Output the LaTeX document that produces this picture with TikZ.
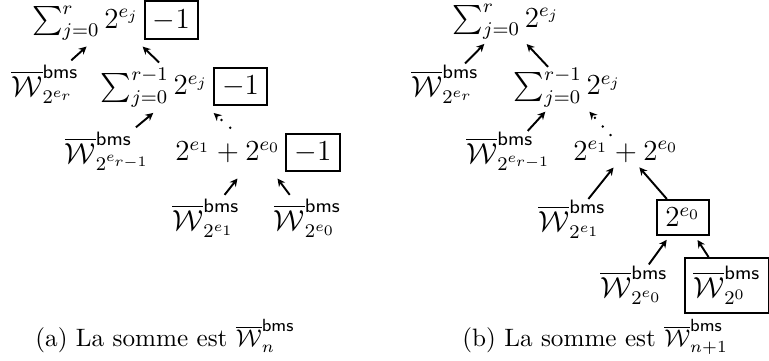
\documentclass[tikz,border=0pt]{standalone}
\usepackage{amsmath}
\usetikzlibrary{arrows.meta}
\setlength{\fboxrule}{0.8pt}
\newcommand{\Wbms}[1]{\overline{\mathcal{W}}^{\textsf{bms}}_{#1}}
\newcommand{\mone}{\hspace{2pt}\fbox{$-1$}}

\begin{document}
\begin{tikzpicture}[
  nda/.style={font=\large,inner sep=1.6pt},
  ndb/.style={font=\large,inner sep=0.3pt},
  bx/.style={font=\large,draw,line width=0.8pt},
  captxt/.style={anchor=base west,inner sep=0pt,font=\fontsize{10.4}{12.5}\selectfont},
  ar/.style={->,line width=0.8pt,shorten >=2pt},
  >={Stealth[length=3.2pt,width=3.2pt]}
]
\useasboundingbox (0,0) rectangle (11.17,5.243);
% (a) sum of n
\node[nda] (s0) at (1.678,4.945) {$\sum_{j=0}^{r}2^{e_j}$\mone};
\node[nda] (wr) at (0.654,4.023) {$\Wbms{2^{e_r}}$};
\node[nda] (s1) at (2.680,3.980) {$\sum_{j=0}^{r-1}2^{e_j}$\mone};
\node[nda] (wr1) at (1.561,3.050) {$\Wbms{2^{e_{r-1}}}$};
\node[nda] (p) at (3.747,3.028) {$2^{e_1}+2^{e_0}$\mone};
\node[nda] (w1) at (2.992,2.069) {$\Wbms{2^{e_1}}$};
\node[nda] (w0) at (4.466,2.069) {$\Wbms{2^{e_0}}$};
\draw[ar,shorten >=1pt] (wr) -- (s0);
\draw[ar,shorten >=1pt] (s1) -- (s0);
\draw[ar,shorten >=1pt] (wr1) -- (s1);
\draw[ar,loosely dotted,shorten >=1pt] (p) -- (s1);
\draw[ar,shorten >=1pt] (w1) -- (p);
\draw[ar,shorten >=1pt] (w0) -- (p);
\node[captxt] (capa) at (0.508,0.203) {(a) La somme est $\Wbms{n}$};
% (b) sum of n+1
\node[ndb] (t0) at (7.349,4.924) {$\sum_{j=0}^{r}2^{e_j}$};
\node[ndb] (vr) at (6.463,4.023) {$\Wbms{2^{e_r}}$};
\node[ndb] (t1) at (8.242,3.972) {$\sum_{j=0}^{r-1}2^{e_j}$};
\node[ndb] (vr1) at (7.393,3.043) {$\Wbms{2^{e_{r-1}}}$};
\node[ndb] (q) at (9.092,3.035) {$2^{e_1}+2^{e_0}$};
\node[ndb] (v1) at (8.308,2.055) {$\Wbms{2^{e_1}}$};
\node[bx] (n0) at (9.920,2.084) {$2^{e_0}$};
\node[ndb] (v0) at (9.208,1.104) {$\Wbms{2^{e_0}}$};
\node[bx] (n1) at (10.559,1.097) {$\Wbms{2^0}$};
\draw[ar] (vr) -- (t0);
\draw[ar] (t1) -- (t0);
\draw[ar] (vr1) -- (t1);
\draw[ar,loosely dotted,shorten <=2.5pt] (q) -- (t1);
\draw[ar] (v1) -- (q);
\draw[ar] (n0) -- (q);
\draw[ar] (v0) -- (n0);
\draw[ar] (n1) -- (n0);
\node[captxt] (capb) at (6.710,0.203) {(b) La somme est $\Wbms{n+1}$};
\end{tikzpicture}
\end{document}
